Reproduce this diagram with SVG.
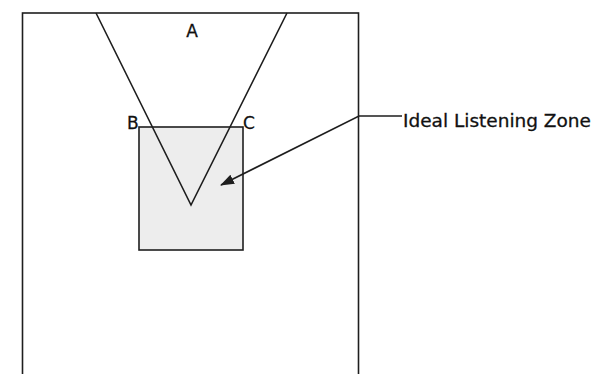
<svg xmlns="http://www.w3.org/2000/svg" width="595" height="374" viewBox="0 0 595 374">
<defs>
<style>
.ln{fill:none;stroke:#1e1e1e;stroke-width:1.6}
.lbl{font-family:"DejaVu Sans",Verdana,sans-serif;fill:#111;stroke:#111;stroke-width:0.3}
</style>
<marker id="ah" markerWidth="14" markerHeight="10" refX="13" refY="5" orient="auto" markerUnits="userSpaceOnUse">
<path d="M0,0 L14,5 L0,10 Z" fill="#1e1e1e"/>
</marker>
</defs>
<rect width="595" height="374" fill="#fff"/>
<g id="room">
<rect class="ln" x="22.5" y="13" width="336" height="380"/>
</g>
<g id="zone">
<rect x="139" y="127" width="104" height="123" fill="#ededed" stroke="#1e1e1e" stroke-width="1.6"/>
</g>
<g id="cone">
<polyline class="ln" points="96,13 191,205 287,13"/>
</g>
<g id="labels">
<text class="lbl" x="192" y="37" font-size="17" text-anchor="middle">A</text>
<text class="lbl" x="127" y="129" font-size="17">B</text>
<text class="lbl" x="243" y="129" font-size="17">C</text>
</g>
<g id="zone-label">
<text class="lbl" x="403" y="127" font-size="18.5">Ideal Listening Zone</text>
</g>
<g id="connectors">
<polyline class="ln" points="402,116 359,116 221,185" marker-end="url(#ah)"/>
</g>
</svg>
